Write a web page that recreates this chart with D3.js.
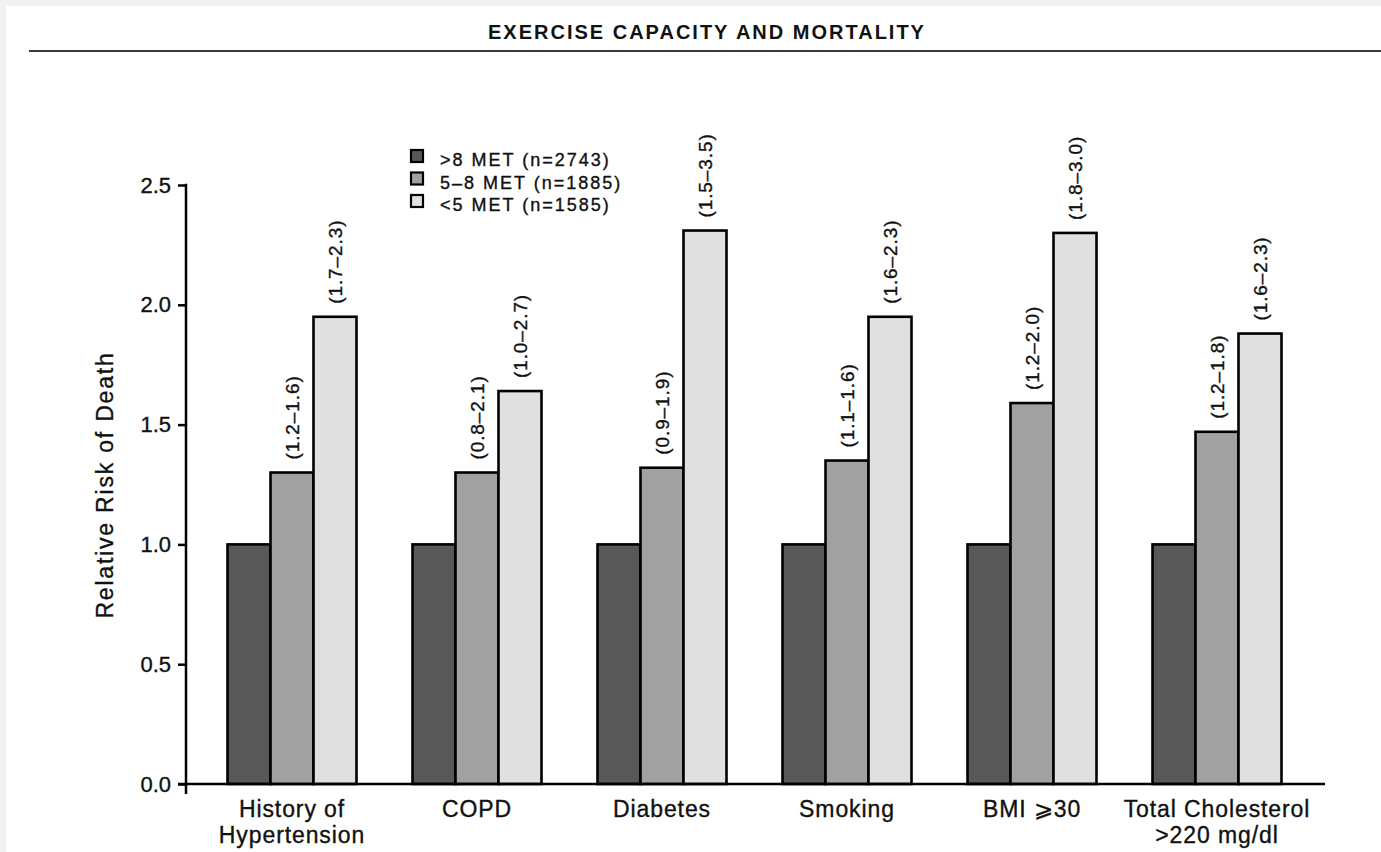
<!DOCTYPE html>
<html>
<head>
<meta charset="utf-8">
<script src="https://cdn.jsdelivr.net/npm/d3@7"></script>
<style>
  html, body { margin: 0; padding: 0; background: #f1f1f1; }
  svg { display: block; }
  text { font-family: "Liberation Sans", Arial, Helvetica, sans-serif; fill: #111; stroke: #111; stroke-width: 0.35px; }
</style>
</head>
<body>
<svg id="chart" width="1381" height="852"></svg>
<script>
// Risk factor groups along the x axis
const categories = ["History of\nHypertension", "COPD", "Diabetes", "Smoking", "BMI \u2A7E30", "Total Cholesterol\n>220 mg/dl"];
// Exercise-capacity strata
const seriesNames = [">8 MET (n=2743)", "5\u20138 MET (n=1885)", "<5 MET (n=1585)"];
const seriesColors = ["#585858", "#a1a1a1", "#e0e0e0"];
// Relative risk of death per stratum (>8 MET is the reference group)
const riskHigh = [1.00, 1.00, 1.00, 1.00, 1.00, 1.00];
const riskMid = [1.30, 1.30, 1.32, 1.35, 1.59, 1.47];
const riskLow = [1.95, 1.64, 2.31, 1.95, 2.30, 1.88];
// 95% confidence intervals printed above the bars
const ciMid = ["(1.2\u20131.6)", "(0.8\u20132.1)", "(0.9\u20131.9)", "(1.1\u20131.6)", "(1.2\u20132.0)", "(1.2\u20131.8)"];
const ciLow = ["(1.7\u20132.3)", "(1.0\u20132.7)", "(1.5\u20133.5)", "(1.6\u20132.3)", "(1.8\u20133.0)", "(1.6\u20132.3)"];
const yTicks = [0.0, 0.5, 1.0, 1.5, 2.0, 2.5];

const svg = d3.select("#chart");

// white page panel
svg.append("rect").attr("x", 6).attr("y", 6).attr("width", 1375).attr("height", 846).attr("fill", "#fff");

// title and rule
svg.append("text")
  .attr("x", 707).attr("y", 38.5)
  .attr("text-anchor", "middle")
  .style("font-weight", "bold").style("font-size", "20px").style("letter-spacing", "2px")
  .style("stroke-width", "0")
  .text("EXERCISE CAPACITY AND MORTALITY");
svg.append("line").attr("x1", 29).attr("x2", 1381).attr("y1", 51).attr("y2", 51)
  .attr("stroke", "#3a3a3a").attr("stroke-width", 2);

// scales
const y = d3.scaleLinear().domain([0, 2.5]).range([784, 185]);
const x = d3.scaleBand().domain(categories).range([199.5, 1309.5])
  .paddingInner(56 / 185).paddingOuter(28 / 185);
const xs = d3.scaleBand().domain([0, 1, 2]).range([0, x.bandwidth()]);

const rows = categories.map((c, i) => ({
  cat: c,
  vals: [riskHigh[i], riskMid[i], riskLow[i]],
  ci: [null, ciMid[i], ciLow[i]]
}));

// bars
const groups = svg.append("g").selectAll("g").data(rows).join("g")
  .attr("transform", d => `translate(${x(d.cat)},0)`);

groups.selectAll("rect").data(d => d.vals.map((v, k) => ({ v, k }))).join("rect")
  .attr("x", d => xs(d.k))
  .attr("width", xs.bandwidth())
  .attr("y", d => y(d.v))
  .attr("height", d => y(0) - y(d.v))
  .attr("fill", d => seriesColors[d.k])
  .attr("stroke", "#000").attr("stroke-width", 2.6);

// confidence interval labels
groups.selectAll("text.ci").data(d => d.vals.map((v, k) => ({ v, k, t: d.ci[k] })).filter(d => d.t)).join("text")
  .attr("class", "ci")
  .attr("transform", d => `translate(${xs(d.k) + xs.bandwidth() / 2},${y(d.v) - 13}) rotate(-90)`)
  .attr("dy", "0.35em")
  .attr("text-anchor", "start")
  .style("font-size", "19px").style("letter-spacing", "0.9px")
  .text(d => d.t);

// y axis
const yAxis = d3.axisLeft(y).tickValues(yTicks).tickFormat(d3.format(".1f"))
  .tickSize(8).tickSizeOuter(0).tickPadding(7);
const gy = svg.append("g").attr("transform", "translate(186,0)").call(yAxis);
gy.select(".domain").remove();
gy.selectAll(".tick line").attr("stroke", "#000").attr("stroke-width", 2.5);
gy.selectAll(".tick text").style("font-size", "22px").style("letter-spacing", "0px")
  .attr("font-family", null).attr("fill", "#111");
svg.append("line").attr("x1", 186).attr("x2", 186).attr("y1", y(2.5) - 1.25).attr("y2", 794)
  .attr("stroke", "#000").attr("stroke-width", 2.5);

// x axis
const xAxis = d3.axisBottom(x).tickSize(0).tickFormat("");
const gx = svg.append("g").attr("transform", `translate(0,${y(0)})`).call(xAxis);
gx.select(".domain").remove();
gx.selectAll(".tick text").each(function(d) {
  const t = d3.select(this).text(null).attr("y", 0).attr("dy", null)
    .attr("font-family", null).attr("fill", "#111")
    .style("font-size", "23px").style("letter-spacing", "0.9px");
  d.split("\n").forEach((line, i) => {
    t.append("tspan").attr("x", 0).attr("y", 33 + i * 26).text(line);
  });
});
svg.append("line").attr("x1", 178).attr("x2", 1325).attr("y1", y(0)).attr("y2", y(0))
  .attr("stroke", "#000").attr("stroke-width", 2.5);

// y axis title
svg.append("text")
  .attr("transform", "translate(113,485) rotate(-90)")
  .attr("text-anchor", "middle")
  .style("font-size", "23px").style("letter-spacing", "1.8px")
  .text("Relative Risk of Death");

// legend
const legend = svg.append("g").attr("transform", "translate(411,150)");
const li = legend.selectAll("g").data(seriesNames).join("g")
  .attr("transform", (d, i) => `translate(0,${i * 22.5})`);
li.append("rect").attr("width", 12).attr("height", 12)
  .attr("fill", (d, i) => seriesColors[i]).attr("stroke", "#000").attr("stroke-width", 2.2);
li.append("text").attr("x", 29).attr("y", 16)
  .style("font-size", "18px").style("letter-spacing", "2px")
  .text(d => d);
</script>
</body>
</html>
